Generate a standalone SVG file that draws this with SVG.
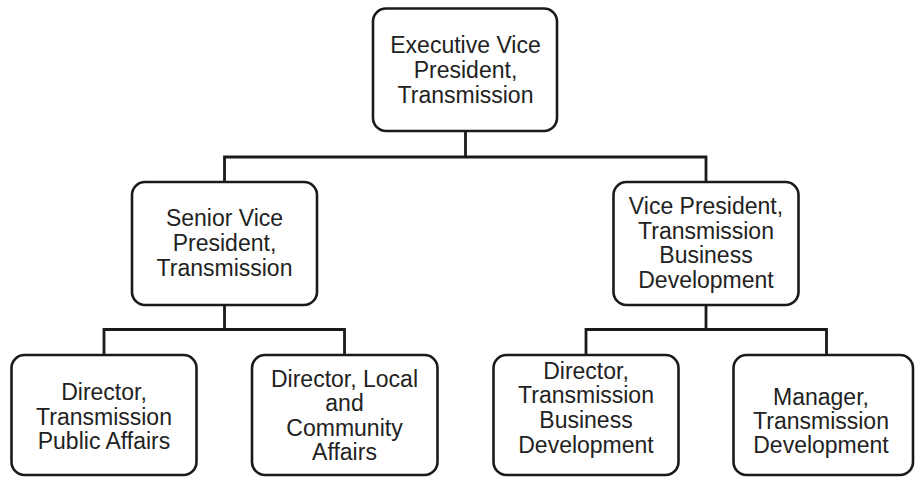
<svg xmlns="http://www.w3.org/2000/svg" width="915" height="477" viewBox="0 0 915 477">
<style>
.box{fill:#fff;stroke:#1a1a1a;stroke-width:2.6}
.ln{fill:none;stroke:#1a1a1a;stroke-width:2.8;stroke-linecap:square}
text{font-family:"Liberation Sans",Arial,sans-serif;font-size:23px;fill:#222;text-anchor:middle}
</style>
<rect width="915" height="477" fill="#fff"/>
<g id="connectors">
<path class="ln" d="M465.5 131V157M224.5 157H706M224.5 157V182M706 157V182"/>
<path class="ln" d="M224.5 305V329.5M104 329.5H344.5M104 329.5V355M344.5 329.5V355"/>
<path class="ln" d="M706 305V329.5M586 329.5H826.5M586 329.5V355M826.5 329.5V355"/>
</g>
<g id="evp">
<rect class="box" x="373" y="8.5" width="184" height="122.5" rx="13"/>
<text x="465.5" y="53.3">Executive Vice</text>
<text x="465.5" y="78">President,</text>
<text x="465.5" y="102.7">Transmission</text>
</g>
<g id="svp">
<rect class="box" x="132" y="182" width="185" height="123" rx="13"/>
<text x="224.5" y="226">Senior Vice</text>
<text x="224.5" y="251">President,</text>
<text x="224.5" y="276">Transmission</text>
</g>
<g id="vp">
<rect class="box" x="613.5" y="182" width="185" height="123" rx="13"/>
<text x="706" y="214">Vice President,</text>
<text x="706" y="238.5">Transmission</text>
<text x="706" y="263">Business</text>
<text x="706" y="287.5">Development</text>
</g>
<g id="dir-public">
<rect class="box" x="11.5" y="355" width="185" height="120" rx="13"/>
<text x="104" y="400">Director,</text>
<text x="104" y="425">Transmission</text>
<text x="104" y="449.3">Public Affairs</text>
</g>
<g id="dir-local">
<rect class="box" x="252" y="355" width="185.5" height="120" rx="13"/>
<text x="344.5" y="386.7">Director, Local</text>
<text x="344.5" y="410.7">and</text>
<text x="344.5" y="435.7">Community</text>
<text x="344.5" y="460">Affairs</text>
</g>
<g id="dir-business">
<rect class="box" x="493.5" y="355" width="185" height="120" rx="13"/>
<text x="586" y="379">Director,</text>
<text x="586" y="403.3">Transmission</text>
<text x="586" y="428">Business</text>
<text x="586" y="452.7">Development</text>
</g>
<g id="mgr-dev">
<rect class="box" x="733.5" y="355" width="179.5" height="120" rx="13"/>
<text x="821" y="405">Manager,</text>
<text x="821" y="429.3">Transmission</text>
<text x="821" y="453.3">Development</text>
</g>
</svg>
